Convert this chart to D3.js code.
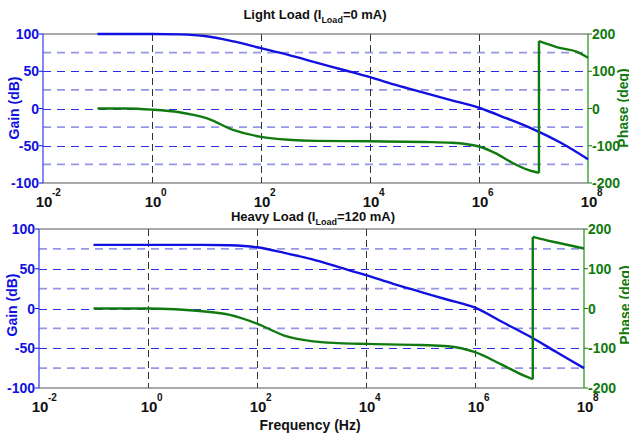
<!DOCTYPE html>
<html>
<head>
<meta charset="utf-8">
<script src="https://cdn.jsdelivr.net/npm/d3@7"></script>
<style>
  body { margin: 0; background: #fff; }
  svg { display: block; font-family: "Liberation Sans", Arial, sans-serif; font-weight: bold; }
</style>
</head>
<body>
<svg id="chart" width="629" height="436"></svg>
<script>
"use strict";

// frequency points are given as log10(Hz)
var lightGainExp = [-1, 0, 0.5, 1, 1.5, 2, 2.5, 3, 3.5, 4, 4.5, 5, 5.5, 6, 6.5, 7, 7.5, 8];
var lightGain    = [100, 100, 99.5, 97, 90, 81, 72, 62, 52, 42, 31, 21, 11, 1, -13, -28, -46, -68];
var lightPhaseExp = [-1, -0.5, 0, 0.5, 1, 1.5, 2, 2.5, 3, 4, 5, 5.5, 6, 6.3, 6.6, 6.9, 7.1, 7.1, 7.5, 7.8, 8];
var lightPhase    = [0, 0, -3, -10, -26, -58, -76, -84, -87, -88, -90, -92, -102, -120, -145, -165, -173, 181, 162, 152, 136];

var heavyGainExp = [-1, 0, 1, 1.5, 2, 2.5, 3, 3.5, 4, 4.5, 5, 5.5, 6, 6.5, 7, 7.5, 8];
var heavyGain    = [80, 80, 80, 79.5, 77, 70, 62, 52, 42, 31, 21, 11, 1, -17, -35, -55, -75];
var heavyPhaseExp = [-1, 0, 0.5, 1, 1.5, 2, 2.5, 3, 3.5, 4, 5, 5.5, 6, 6.5, 6.9, 7.06, 7.06, 7.3, 7.5, 8];
var heavyPhase    = [0, 0, -2, -7, -16, -38, -68, -82, -87, -89, -92, -95, -110, -142, -169, -178, 180, 172, 166, 151];

var xTickExp = [-2, 0, 2, 4, 6, 8];
var gainTicks = [-100, -50, 0, 50, 100];
var phaseTicks = [-200, -100, 0, 100, 200];
var gainGrid = [-50, 0, 50];
var phaseGrid = [-150, -50, 50, 150];

var blue = "#1010e0";
var green = "#107a10";

var svg = d3.select("#chart");

// split into runs at the phase wrap (two points at the same frequency)
function segments(ex, vals) {
  var segs = [[]];
  ex.forEach(function (e, i) {
    if (i > 0 && e === ex[i - 1]) segs.push([]);
    segs[segs.length - 1].push({ f: Math.pow(10, e), v: vals[i] });
  });
  return segs;
}

function drawCurve(g, x, y, ex, vals, color) {
  var line = d3.line().curve(d3.curveMonotoneX)
    .x(function (d) { return x(d.f); }).y(function (d) { return y(d.v); });
  var segs = segments(ex, vals);
  segs.forEach(function (s, i) {
    g.append("path").datum(s).attr("d", line)
      .attr("fill", "none").attr("stroke", color).attr("stroke-width", 2.4);
    if (i > 0) {
      var a = segs[i - 1][segs[i - 1].length - 1], b = s[0];
      g.append("line").attr("x1", x(a.f)).attr("x2", x(b.f)).attr("y1", y(a.v)).attr("y2", y(b.v))
        .attr("stroke", color).attr("stroke-width", 2.4);
    }
  });
}

// one bode panel: gain on the left axis, phase on the right
function panel(cfg) {
  var x = d3.scaleLog().domain([1e-2, 1e8]).range([cfg.left, cfg.right]);
  var yG = d3.scaleLinear().domain([-100, 100]).range([cfg.bottom, cfg.top]);
  var yP = d3.scaleLinear().domain([-200, 200]).range([cfg.bottom, cfg.top]);
  var g = svg.append("g");

  // horizontal grid (phase grid lighter, gain grid darker)
  g.selectAll(".pgrid").data(phaseGrid).enter().append("line")
    .attr("x1", cfg.left).attr("x2", cfg.right)
    .attr("y1", function (d) { return yP(d); }).attr("y2", function (d) { return yP(d); })
    .attr("stroke", "#9696e6").attr("stroke-width", 1.6).attr("stroke-dasharray", "8,6");
  g.selectAll(".ggrid").data(gainGrid).enter().append("line")
    .attr("x1", cfg.left).attr("x2", cfg.right)
    .attr("y1", function (d) { return Math.round(yG(d)) + 0.5; }).attr("y2", function (d) { return Math.round(yG(d)) + 0.5; })
    .attr("stroke", "#2a2ae8").attr("stroke-width", 1).attr("stroke-dasharray", "8,6");

  // vertical grid at decades
  g.selectAll(".xgrid").data(xTickExp.slice(1, -1)).enter().append("line")
    .attr("x1", function (d) { return Math.round(x(Math.pow(10, d))) + 0.5; })
    .attr("x2", function (d) { return Math.round(x(Math.pow(10, d))) + 0.5; })
    .attr("y1", cfg.top).attr("y2", cfg.bottom)
    .attr("stroke", "#333").attr("stroke-width", 1).attr("stroke-dasharray", "7,4");

  // frame
  g.append("line").attr("x1", cfg.left).attr("x2", cfg.right).attr("y1", cfg.top).attr("y2", cfg.top)
    .attr("stroke", "#555");
  g.append("line").attr("x1", cfg.left).attr("x2", cfg.right).attr("y1", cfg.bottom).attr("y2", cfg.bottom)
    .attr("stroke", "#555");
  g.append("line").attr("x1", cfg.left).attr("x2", cfg.left).attr("y1", cfg.top).attr("y2", cfg.bottom)
    .attr("stroke", "#4848f0").attr("stroke-width", 1.3);
  g.append("line").attr("x1", cfg.right).attr("x2", cfg.right).attr("y1", cfg.top).attr("y2", cfg.bottom)
    .attr("stroke", "#2a9a2a").attr("stroke-width", 1.3);

  // left ticks + labels
  g.selectAll(".gtick").data(gainTicks).enter().append("line")
    .attr("x1", cfg.left - 4).attr("x2", cfg.left)
    .attr("y1", function (d) { return yG(d); }).attr("y2", function (d) { return yG(d); })
    .attr("stroke", blue);
  g.selectAll(".glab").data(gainTicks).enter().append("text")
    .attr("x", cfg.left - 4).attr("y", function (d) { return yG(d); }).attr("dy", "0.36em")
    .attr("text-anchor", "end").attr("fill", blue).style("font-size", "14px")
    .text(function (d) { return d; });

  // right ticks + labels
  g.selectAll(".ptick").data(phaseTicks).enter().append("line")
    .attr("x1", cfg.right).attr("x2", cfg.right + 4)
    .attr("y1", function (d) { return yP(d); }).attr("y2", function (d) { return yP(d); })
    .attr("stroke", green);
  g.selectAll(".plab").data(phaseTicks).enter().append("text")
    .attr("x", cfg.right + 4).attr("y", function (d) { return yP(d); }).attr("dy", "0.36em")
    .attr("fill", green).style("font-size", "14px")
    .text(function (d) { return d; });

  // x tick labels 10^n
  var xl = g.selectAll(".xlab").data(xTickExp).enter().append("g")
    .attr("transform", function (d) { return "translate(" + x(Math.pow(10, d)) + "," + cfg.xlabY + ")"; });
  xl.append("text").attr("x", 1).attr("text-anchor", "middle").attr("fill", "#111")
    .style("font-size", "15px").text("10");
  xl.append("text").attr("x", 9).attr("y", -11).attr("fill", "#111")
    .style("font-size", "10px").text(function (d) { return d; });

  // axis titles
  g.append("text").attr("transform", "translate(" + cfg.gainLabX + "," + cfg.labY + ") rotate(-90)")
    .attr("text-anchor", "middle").attr("fill", blue).style("font-size", "14px").text("Gain (dB)");
  g.append("text").attr("transform", "translate(" + cfg.phaseLabX + "," + cfg.labY + ") rotate(-90)")
    .attr("text-anchor", "middle").attr("fill", green).style("font-size", "14px").text("Phase (deg)");

  // panel title with subscript
  var t = g.append("text").attr("x", cfg.titleX).attr("y", cfg.titleY)
    .attr("text-anchor", "middle").attr("fill", "#111").style("font-size", "13px");
  t.append("tspan").text(cfg.titleA);
  t.append("tspan").attr("dy", 4).style("font-size", "9px").text("Load");
  t.append("tspan").attr("dy", -4).text(cfg.titleB);

  drawCurve(g, x, yG, cfg.gainExp, cfg.gain, blue);
  drawCurve(g, x, yP, cfg.phaseExp, cfg.phase, green);
}

panel({
  left: 43, right: 588, top: 34, bottom: 183,
  xlabY: 207, gainLabX: 19, phaseLabX: 628, labY: 108,
  titleX: 315, titleY: 19, titleA: "Light Load (I", titleB: "=0 mA)",
  gainExp: lightGainExp, gain: lightGain, phaseExp: lightPhaseExp, phase: lightPhase
});

panel({
  left: 39, right: 584, top: 229, bottom: 388,
  xlabY: 412, gainLabX: 17, phaseLabX: 630, labY: 305,
  titleX: 313, titleY: 221, titleA: "Heavy Load (I", titleB: "=120 mA)",
  gainExp: heavyGainExp, gain: heavyGain, phaseExp: heavyPhaseExp, phase: heavyPhase
});

svg.append("text").attr("x", 310).attr("y", 430).attr("text-anchor", "middle")
  .attr("fill", "#111").style("font-size", "14px").text("Frequency (Hz)");
</script>
</body>
</html>
